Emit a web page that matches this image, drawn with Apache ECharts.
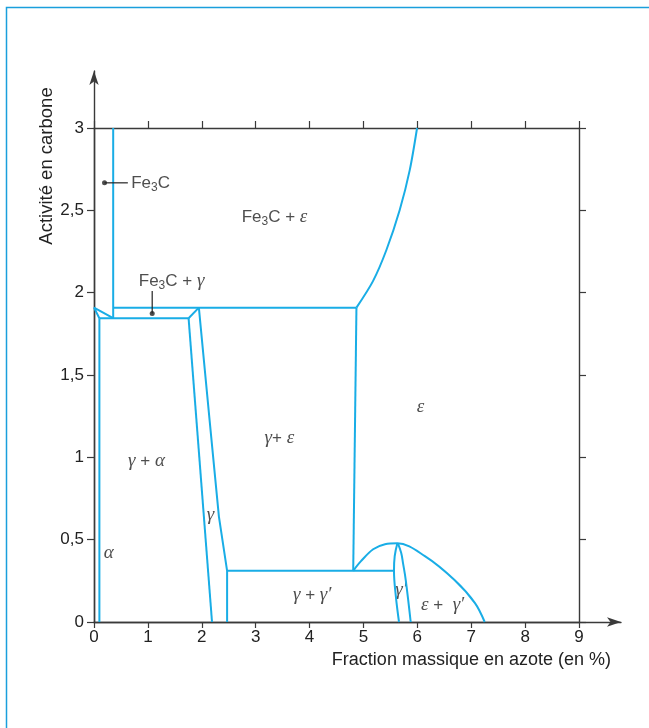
<!DOCTYPE html>
<html>
<head>
<meta charset="utf-8">
<script src="https://cdn.jsdelivr.net/npm/echarts@6/dist/echarts.min.js"></script>
<style>
  html, body { margin: 0; padding: 0; background: #fff; }
  #chart { width: 649px; height: 728px; }
</style>
</head>
<body>
<div id="chart"></div>
<script>
// Fe–C–N phase diagram: carbon activity vs nitrogen mass fraction

const xTicks = [0, 1, 2, 3, 4, 5, 6, 7, 8, 9];
const yTicks = [0, 0.5, 1, 1.5, 2, 2.5, 3];

// phase boundaries, [nitrogen %, carbon activity]
const fe3cSolvus     = [[0.356, 3.0], [0.356, 1.845]];
const upperTieLine   = [[0.356, 1.909], [4.87, 1.909]];
const lowerTieLine   = [[0.1, 1.845], [1.755, 1.845]];
const leftCorner     = [[0.356, 1.845], [0, 1.909], [0.1, 1.845]];
const rightCorner    = [[1.755, 1.845], [1.946, 1.909]];
const alphaBoundary  = [[0.1, 1.845], [0.1, 0]];
const gammaLeft      = [[1.755, 1.845], [2.19, 0]];
const gammaRight     = [[1.946, 1.909], [2.145, 1.226], [2.318, 0.64], [2.47, 0.311], [2.47, 0]];
const gammaPrimeTie  = [[2.47, 0.311], [5.567, 0.311]];
const epsilonEdge    = [[4.87, 1.909], [4.81, 0.311]];
const fe3cEpsCurve   = [[4.87, 1.909], [5.177, 2.07], [5.426, 2.259], [5.673, 2.502], [5.859, 2.744], [5.995, 3.0]];
const epsilonDome    = [[4.81, 0.311], [4.95, 0.368], [5.18, 0.442], [5.40, 0.472], [5.63, 0.478],
                        [6.14, 0.40], [6.69, 0.255], [7.07, 0.115], [7.25, 0]];
const gPrimeLeft     = [[5.63, 0.478], [5.58, 0.40], [5.567, 0.311], [5.60, 0.16], [5.66, 0]];
const gPrimeRight    = [[5.64, 0.478], [5.70, 0.42], [5.735, 0.356], [5.785, 0.255], [5.877, 0]];

// pointer lines and their dots
const fe3cPointer      = [[0.195, 2.667], [0.628, 2.667]];
const fe3cGammaPointer = [[1.08, 2.01], [1.08, 1.874]];
const pointerDots      = [[0.195, 2.667], [1.08, 1.874]];

// field names and their anchors
const fieldNames   = ['Fe{s|3}C', 'Fe{s|3}C + {g|ε}', 'Fe{s|3}C + {g|γ}', '{g|ε}', '{g|γ}+ {g|ε}',
                      '{g|γ} + {g|α}', '{g|γ}', '{g|α}', '{g|γ} + {g|γ′}', '{g|γ′}', '{g|ε} +  {g|γ′}'];
const fieldAnchors = [[0.69, 2.665], [3.35, 2.46], [1.44, 2.07], [6.06, 1.305], [3.44, 1.117],
                      [0.975, 0.978], [2.163, 0.65], [0.275, 0.417], [4.05, 0.164], [5.70, 0.194], [6.47, 0.103]];
const fieldAlign   = ['left', 'center', 'center', 'center', 'center', 'center', 'center', 'center', 'center', 'center', 'center'];

const BLUE = '#19ade6';
const AXIS = '#3a3a3a';
const INK = '#222';
const SANS = '"Liberation Sans", Arial, sans-serif';
const SERIF = '"Liberation Serif", "DejaVu Serif", serif';

const chart = echarts.init(document.getElementById('chart'), null, { renderer: 'canvas' });

function boundary(data, smooth) {
  return {
    type: 'line', data: data, xAxisIndex: 0, yAxisIndex: 0,
    showSymbol: false, symbol: 'none', clip: false,
    smooth: smooth || false,
    lineStyle: { color: BLUE, width: 2 },
    silent: true
  };
}
function pointer(data) {
  return {
    type: 'line', data: data, xAxisIndex: 0, yAxisIndex: 0,
    showSymbol: false, symbol: 'none', clip: false,
    lineStyle: { color: INK, width: 1.2 }, silent: true
  };
}

const richStyles = {
  s: { fontFamily: SANS, fontSize: 12, color: INK, padding: [10, 0, 0, 0] },
  g: { fontFamily: SERIF, fontStyle: 'italic', fontSize: 19, color: INK }
};

const axisLineStyle = { color: AXIS, width: 1.4 };
const tickStyle = { color: AXIS, width: 1.2 };

const option = {
  animation: false,
  backgroundColor: '#fff',
  grid: [
    { left: 94, top: 128, width: 485, height: 494 },
    { left: 94, top: 71, width: 527, height: 551 }
  ],
  xAxis: [
    {
      gridIndex: 0, type: 'value', position: 'bottom', min: 0, max: 9, interval: 1,
      axisLine: { show: true, onZero: false, lineStyle: axisLineStyle },
      axisTick: { show: true, inside: false, length: 6, lineStyle: tickStyle, customValues: xTicks },
      axisLabel: { show: true, margin: 7, color: INK, fontSize: 17, fontFamily: SANS, customValues: xTicks },
      splitLine: { show: false }
    },
    {
      gridIndex: 0, type: 'value', position: 'top', min: 0, max: 9, interval: 1,
      axisLine: { show: true, onZero: false, lineStyle: axisLineStyle },
      axisTick: { show: true, inside: false, length: 7, lineStyle: tickStyle },
      axisLabel: { show: false },
      splitLine: { show: false }
    },
    {
      gridIndex: 1, type: 'value', position: 'bottom', min: 0, max: 1,
      axisLine: { show: true, onZero: false, symbol: ['none', 'arrow'], symbolSize: [7, 14], lineStyle: axisLineStyle },
      axisTick: { show: false }, axisLabel: { show: false }, splitLine: { show: false }
    }
  ],
  yAxis: [
    {
      gridIndex: 0, type: 'value', position: 'left', min: 0, max: 3, interval: 0.5,
      axisLine: { show: true, onZero: false, lineStyle: axisLineStyle },
      axisTick: { show: true, inside: false, length: 7, lineStyle: tickStyle, customValues: yTicks },
      axisLabel: {
        show: true, margin: 10, color: INK, fontSize: 17, fontFamily: SANS, customValues: yTicks,
        formatter: v => String(v).replace('.', ',')
      },
      splitLine: { show: false }
    },
    {
      gridIndex: 0, type: 'value', position: 'right', min: 0, max: 3, interval: 0.5,
      axisLine: { show: true, onZero: false, lineStyle: axisLineStyle },
      axisTick: { show: true, inside: false, length: 7, lineStyle: tickStyle },
      axisLabel: { show: false },
      splitLine: { show: false }
    },
    {
      gridIndex: 1, type: 'value', position: 'left', min: 0, max: 1,
      axisLine: { show: true, onZero: false, symbol: ['none', 'arrow'], symbolSize: [7, 14], lineStyle: axisLineStyle },
      axisTick: { show: false }, axisLabel: { show: false }, splitLine: { show: false }
    }
  ],
  series: [
    boundary(fe3cSolvus),
    boundary(upperTieLine),
    boundary(lowerTieLine),
    boundary(leftCorner),
    boundary(rightCorner),
    boundary(alphaBoundary),
    boundary(gammaLeft),
    boundary(gammaRight),
    boundary(gammaPrimeTie),
    boundary(epsilonEdge),
    boundary(fe3cEpsCurve, 0.3),
    boundary(epsilonDome, 0.35),
    boundary(gPrimeLeft, 0.4),
    boundary(gPrimeRight, 0.4),
    pointer(fe3cPointer),
    pointer(fe3cGammaPointer),
    {
      type: 'scatter', xAxisIndex: 0, yAxisIndex: 0, data: pointerDots,
      symbol: 'circle', symbolSize: 5, itemStyle: { color: INK }, silent: true, clip: false
    },
    {
      type: 'scatter', xAxisIndex: 0, yAxisIndex: 0, symbolSize: 0, silent: true, clip: false,
      data: fieldNames.map((t, i) => ({
        value: fieldAnchors[i],
        label: {
          show: true, position: 'inside', formatter: t, align: fieldAlign[i], verticalAlign: 'middle',
          color: INK, fontSize: 17, fontFamily: SANS, rich: richStyles
        }
      }))
    }
  ],
  graphic: [
    {
      type: 'rect', silent: true,
      shape: { x: 6.5, y: 7.5, width: 700, height: 800 },
      style: { fill: 'none', stroke: '#1a9fdc', lineWidth: 1.5 }
    },
    {
      type: 'text', silent: true, x: 611, y: 660,
      style: { text: 'Fraction massique en azote (en %)', fill: INK, font: '18px ' + SANS, textAlign: 'right', textVerticalAlign: 'middle' }
    },
    {
      type: 'text', silent: true, x: 47, y: 166, rotation: Math.PI / 2,
      style: { text: 'Activité en carbone', fill: INK, font: '18.5px ' + SANS, textAlign: 'center', textVerticalAlign: 'middle' }
    }
  ]
};

chart.setOption(option);
</script>
</body>
</html>
